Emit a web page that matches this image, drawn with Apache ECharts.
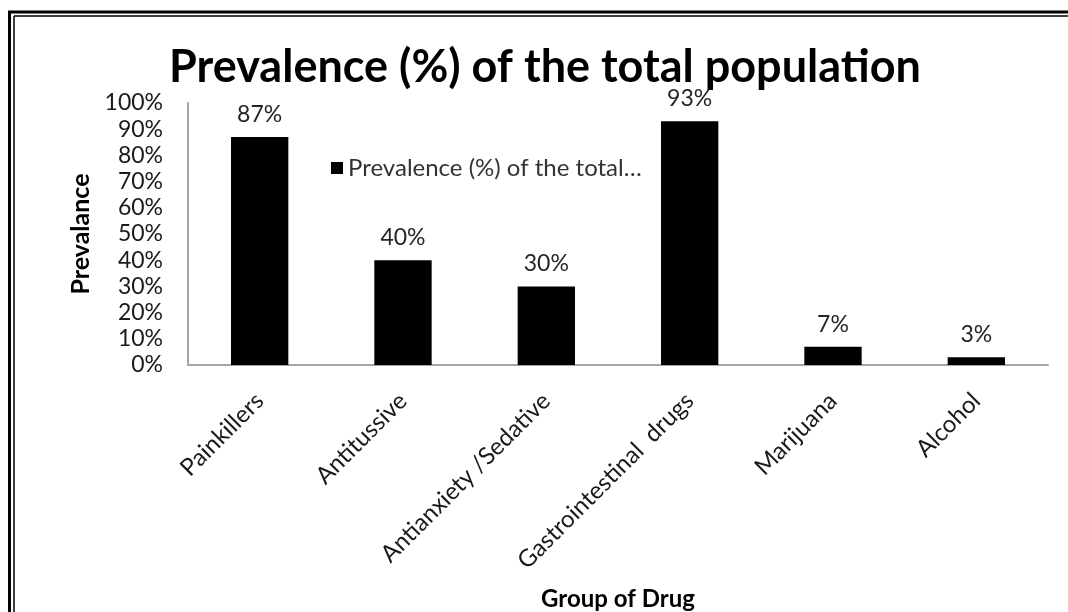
<!DOCTYPE html>
<html lang="en">
<head>
    <meta charset="UTF-8">
    <title>Prevalence (%) of the total population</title>
    <script src="https://cdn.jsdelivr.net/npm/echarts@6/dist/echarts.min.js"></script>
    <style>
        html, body { margin: 0; padding: 0; background: #fff; overflow: hidden; }
        #main { width: 1068px; height: 612px; }
    </style>
</head>
<body>
    <div id="main"></div>
<script>
    var categories = ['Painkillers', 'Antitussive', 'Antianxiety /Sedative', 'Gastrointestinal  drugs', 'Marijuana', 'Alcohol'];
    var prevalence = [87, 40, 30, 93, 7, 3];
    var seriesName = 'Prevalence (%) of the total population';

    var font = 'Lato, "Open Sans", sans-serif';
    var chart = echarts.init(document.getElementById('main'));

    var option = {
        backgroundColor: '#fff',
        textStyle: { fontFamily: font },
        title: {
            text: 'Prevalence (%) of the total population',
            left: 540,
            textAlign: 'center',
            top: 40,
            textStyle: { fontFamily: font, fontSize: 45, fontWeight: 'bold', color: '#000' }
        },
        legend: {
            data: [seriesName],
            left: 326,
            top: 151,
            icon: 'rect',
            itemWidth: 12,
            itemHeight: 12,
            itemGap: 6,
            // legend text is cut short in the original
            formatter: function (name) { return name.slice(0, 27) + '…'; },
            textStyle: { fontFamily: font, fontSize: 24, color: '#333' }
        },
        grid: { left: 188, right: 20, top: 103, bottom: 246 },
        xAxis: {
            type: 'category',
            data: categories,
            name: 'Group of Drug',
            nameLocation: 'middle',
            nameGap: 222,
            nameTextStyle: { fontFamily: font, fontSize: 24, fontWeight: 'bold', color: '#000' },
            axisLine: { lineStyle: { color: '#a6a6a6', width: 2 } },
            axisTick: { show: false },
            axisLabel: { rotate: 45, margin: 32, fontSize: 24, color: '#1a1a1a', fontFamily: font, interval: 0 }
        },
        yAxis: {
            type: 'value',
            min: 0,
            max: 100,
            interval: 10,
            name: 'Prevalance',
            nameLocation: 'middle',
            nameGap: 95,
            nameTextStyle: { fontFamily: font, fontSize: 25, fontWeight: 'bold', color: '#000' },
            axisLine: { show: true, lineStyle: { color: '#a6a6a6', width: 2 } },
            axisTick: { show: false },
            splitLine: { show: false },
            axisLabel: { formatter: '{value}%', margin: 25, fontSize: 23, color: '#1a1a1a', fontFamily: font }
        },
        series: [
            {
                name: seriesName,
                type: 'bar',
                data: prevalence,
                barWidth: '40%',
                itemStyle: { color: '#000' },
                label: {
                    show: true,
                    position: 'top',
                    distance: 11,
                    formatter: '{c}%',
                    fontSize: 23,
                    color: '#262626',
                    fontFamily: font
                }
            }
        ],
        graphic: [
            // double frame, left and top edges only
            { type: 'line', shape: { x1: 9.5, y1: 12, x2: 9.5, y2: 612 }, style: { stroke: '#000', lineWidth: 3 } },
            { type: 'line', shape: { x1: 8, y1: 12, x2: 1068, y2: 12 }, style: { stroke: '#000', lineWidth: 3 } },
            { type: 'line', shape: { x1: 14, y1: 16, x2: 14, y2: 612 }, style: { stroke: '#000', lineWidth: 1.5 } },
            { type: 'line', shape: { x1: 14, y1: 16, x2: 1068, y2: 16 }, style: { stroke: '#000', lineWidth: 1.5 } }
        ]
    };
    chart.setOption(option);
</script>
</body>
</html>
